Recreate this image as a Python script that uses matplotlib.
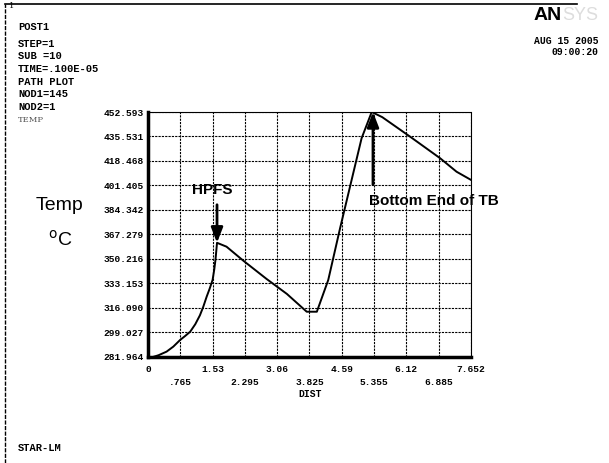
import matplotlib
matplotlib.use('Agg')
import matplotlib.pyplot as plt
from matplotlib.lines import Line2D

# temperature along the path
dist = [0.12, 0.25, 0.44, 0.60, 0.76, 0.88, 1.00, 1.12, 1.23, 1.31, 1.39, 1.46,
        1.53, 1.57, 1.60, 1.635, 1.86, 2.26, 2.81, 3.29, 3.76, 4.00, 4.27,
        4.55, 5.06, 5.30, 5.55, 6.21, 6.92, 7.31, 7.652]
temp = [282.0, 283.2, 285.7, 289.2, 293.8, 296.6, 299.6, 304.8, 311.0, 317.0,
        324.0, 329.5, 335.6, 343.0, 350.0, 361.5, 358.8, 349.0, 336.3, 325.9,
        313.5, 313.5, 335.6, 371.6, 434.3, 452.6, 449.0, 435.4, 420.4, 411.0,
        405.3]

ymin, ymax = 281.964, 452.593
xmax = 7.652
yticks = [281.964, 299.027, 316.090, 333.153, 350.216, 367.279,
          384.342, 401.405, 418.468, 435.531, 452.593]
ytick_labels = ['281.964', '299.027', '316.090', '333.153', '350.216', '367.279',
                '384.342', '401.405', '418.468', '435.531', '452.593']
xticks_top = [0, 1.53, 3.06, 4.59, 6.12, 7.652]
xlabels_top = ['0', '1.53', '3.06', '4.59', '6.12', '7.652']
xticks_low = [0.765, 2.295, 3.825, 5.355, 6.885]
xlabels_low = ['.765', '2.295', '3.825', '5.355', '6.885']

W, H = 609, 463
mono = 'Liberation Mono'
tick_font = dict(fontfamily=mono, fontweight='bold', fontsize=6.8)

fig = plt.figure(figsize=(W / 100, H / 100), dpi=100)
fig.patch.set_facecolor('white')

def px(x, y):
    return x / W, 1 - y / H

ax = fig.add_axes([148 / W, 1 - 357 / H, (471 - 148) / W, (357 - 112) / H])
ax.plot(dist, temp, color='black', lw=1.4)
ax.set_xlim(0, xmax)
ax.set_ylim(ymin, ymax)

ax.set_yticks(yticks)
ax.set_yticklabels(ytick_labels, **tick_font)
ax.set_xticks(xticks_top)
ax.set_xticklabels(xlabels_top, **tick_font)
ax.set_xticks(xticks_low, minor=True)
ax.set_xticklabels(xlabels_low, minor=True, **tick_font)
ax.tick_params(axis='x', which='major', length=0, pad=6)
ax.tick_params(axis='x', which='minor', length=0, pad=15)
ax.tick_params(axis='y', length=0, pad=3)

ax.grid(True, which='both', color='black', lw=0.8, ls=(0, (2, 1)))
ax.set_axisbelow(True)
for side in ('top', 'right'):
    ax.spines[side].set_linewidth(0.8)
    ax.spines[side].set_linestyle((0, (2, 1)))
for side in ('left', 'bottom'):
    ax.spines[side].set_linewidth(2.5)

fig.text(*px(310, 394), 'DIST', ha='center', va='center', fontsize=7,
         family=mono, fontweight='bold')

# annotations
ax.annotate('', xy=(1.635, 361.5), xytext=(1.635, 388),
            arrowprops=dict(arrowstyle='-|>,head_width=0.35,head_length=0.9',
                            lw=2, color='black', shrinkA=0, shrinkB=0))
ax.text(1.52, 398, 'HPFS', ha='center', va='center', fontsize=11,
        fontweight='bold', family='Liberation Sans')
ax.annotate('', xy=(5.33, 452.6), xytext=(5.33, 402),
            arrowprops=dict(arrowstyle='-|>,head_width=0.35,head_length=0.9',
                            lw=2, color='black', shrinkA=0, shrinkB=0))
ax.text(6.78, 390.6, 'Bottom End of TB', ha='center', va='center', fontsize=11,
        fontweight='bold', family='Liberation Sans', clip_on=False)

fig.text(*px(60, 205), 'Temp', ha='center', va='center', fontsize=14,
         family='Liberation Sans')
fig.text(*px(60, 240), '$^{\\mathrm{o}}$C', ha='center', va='center', fontsize=14,
         family='Liberation Sans')

# header block
hdr = ['POST1', 'STEP=1', 'SUB =10', 'TIME=.100E-05', 'PATH PLOT',
       'NOD1=145', 'NOD2=1']
ys = [27, 44, 56, 69, 82, 94, 107]
for s, y in zip(hdr, ys):
    fig.text(*px(18, y), s, ha='left', va='center', fontsize=7.5,
             family=mono, fontweight='bold')
fig.text(*px(18, 120), 'TEMP', ha='left', va='center', fontsize=6,
         family='DejaVu Serif', color='#555555')
fig.text(*px(9, 6), '1', ha='left', va='center', fontsize=6,
         family='DejaVu Serif')
fig.text(*px(18, 448), 'STAR-LM', ha='left', va='center', fontsize=7.5,
         family=mono, fontweight='bold')

fig.text(*px(534, 15), 'AN', ha='left', va='center', fontsize=14,
         family='Liberation Sans', fontweight='bold')
fig.text(*px(562, 15), 'SYS', ha='left', va='center', fontsize=13,
         family='Liberation Sans', color='#dddddd')
fig.text(*px(599, 41), 'AUG 15 2005', ha='right', va='center', fontsize=7,
         family=mono, fontweight='bold')
fig.text(*px(599, 52), '09:00:20', ha='right', va='center', fontsize=7,
         family=mono, fontweight='bold')

# frame lines
fig.add_artist(Line2D([5 / W, 5 / W], [0, 1 - 4 / H], transform=fig.transFigure,
                      color='black', lw=1, ls=(0, (3, 1))))
fig.add_artist(Line2D([5 / W, 577 / W], [1 - 4 / H, 1 - 4 / H],
                      transform=fig.transFigure, color='black', lw=1.2))

fig.savefig('out.png', dpi=100)
